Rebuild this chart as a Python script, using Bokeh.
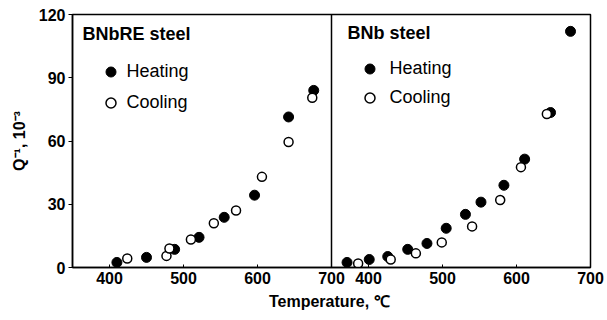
from bokeh.plotting import figure
from bokeh.models import Range1d, FixedTicker, Span, Label, Legend, LegendItem
from bokeh.embed import file_html
from bokeh.resources import INLINE

# ---- data ----
left_heat_t = [410, 450, 488, 521, 555, 596, 642, 676]
left_heat_q = [2.4, 4.8, 8.6, 14.3, 23.8, 34.3, 71.4, 84.0]
left_cool_t = [424, 477, 481, 510, 541, 571, 606, 642, 674]
left_cool_q = [4.3, 5.5, 9.0, 13.3, 21.0, 27.0, 43.0, 59.5, 80.5]

right_heat_t = [371, 401, 426, 453, 479, 505, 531, 552, 583, 611, 646, 673]
right_heat_q = [2.4, 3.8, 5.2, 8.6, 11.4, 18.6, 25.2, 31.0, 39.0, 51.4, 73.5, 112.0]
right_cool_t = [386, 430, 464, 499, 540, 578, 606, 641]
right_cool_q = [1.9, 3.8, 6.7, 11.9, 19.5, 32.0, 47.6, 72.8]

panel_titles = ["BNbRE steel", "BNb steel"]
series_names = ["Heating", "Cooling"]
y_ticks = [0, 30, 60, 90, 120]
x_panel_ticks = [400, 500, 600, 700]
x_range_panel = (350, 700)

FONT = "Liberation Sans"

span = x_range_panel[1] - x_range_panel[0]
p = figure(width=607, height=320, output_backend="svg", toolbar_location=None,
           x_range=Range1d(x_range_panel[0], x_range_panel[1] + span),
           y_range=Range1d(0, 120),
           min_border_left=72, min_border_right=17, min_border_top=14, min_border_bottom=53)
p.extra_x_ranges = {"right": Range1d(x_range_panel[0] - span, x_range_panel[1])}
p.grid.visible = False
p.outline_line_color = "black"
p.outline_line_width = 1.5
p.background_fill_color = "white"
p.border_fill_color = "white"

# x axis: left panel ticks + right panel ticks (shifted onto the shared axis)
right_tick_pos = [t + span for t in x_panel_ticks]
xa = p.xaxis[0]
xa.ticker = FixedTicker(ticks=x_panel_ticks + right_tick_pos)
xa.major_label_overrides = {pos: str(t) for pos, t in zip(right_tick_pos, x_panel_ticks)}
xa.minor_tick_line_color = None
xa.major_tick_in = 3
xa.major_tick_out = 0
xa.axis_line_width = 1.5
xa.major_label_text_font = FONT
xa.major_label_text_font_size = "16px"
xa.major_label_text_font_style = "bold"
xa.major_label_text_color = "black"
xa.major_label_standoff = 4
xa.axis_label = "Temperature,  \u2103"
xa.axis_label_text_font = FONT
xa.axis_label_text_font_size = "16px"
xa.axis_label_text_font_style = "bold"
xa.axis_label_text_color = "black"
xa.axis_label_standoff = 6

ya = p.yaxis[0]
ya.ticker = FixedTicker(ticks=y_ticks)
ya.minor_tick_line_color = None
ya.major_tick_in = 0
ya.major_tick_out = 4
ya.axis_line_width = 1.5
ya.major_label_text_font = FONT
ya.major_label_text_font_size = "16px"
ya.major_label_text_font_style = "bold"
ya.major_label_text_color = "black"
ya.major_label_standoff = 3
ya.axis_label = "Q\u207b\u00b9, 10\u207b\u00b3"
ya.axis_label_text_font = FONT
ya.axis_label_text_font_size = "16px"
ya.axis_label_text_font_style = "bold"
ya.axis_label_text_color = "black"
ya.axis_label_standoff = 8

# panel divider
p.add_layout(Span(location=x_range_panel[1], dimension="height", line_color="black", line_width=1.5))

msize = 10
r_lh = p.scatter(left_heat_t, left_heat_q, size=msize, fill_color="black", line_color="black")
r_lc = p.scatter(left_cool_t, left_cool_q, size=msize - 1, fill_color="white", line_color="black", line_width=1.5)
r_rh = p.scatter(right_heat_t, right_heat_q, size=msize, fill_color="black", line_color="black", x_range_name="right")
r_rc = p.scatter(right_cool_t, right_cool_q, size=msize - 1, fill_color="white", line_color="black", line_width=1.5, x_range_name="right")

def make_legend(items, loc, spacing, standoff):
    lg = Legend(items=items, location=loc, padding=0, margin=0, spacing=spacing,
                glyph_width=25, glyph_height=25, label_height=25, label_standoff=standoff,
                border_line_alpha=0, background_fill_alpha=0,
                label_text_font=FONT, label_text_font_size="18px", label_text_color="black")
    return lg

p.add_layout(make_legend([LegendItem(label=series_names[0], renderers=[r_lh]),
                          LegendItem(label=series_names[1], renderers=[r_lc])], (25.5, 152.5), 6, 4))
p.add_layout(make_legend([LegendItem(label=series_names[0], renderers=[r_rh]),
                          LegendItem(label=series_names[1], renderers=[r_rc])], (284.5, 157.5), 4, 8))

for txt, sx, sy in [(panel_titles[0], 10, 234), (panel_titles[1], 275, 235)]:
    p.add_layout(Label(x=sx, y=sy, x_units="screen", y_units="screen", text=txt,
                       text_font=FONT, text_font_size="18px", text_font_style="bold",
                       text_baseline="middle", text_color="black"))

open("out.html", "w").write(file_html(p, INLINE))
